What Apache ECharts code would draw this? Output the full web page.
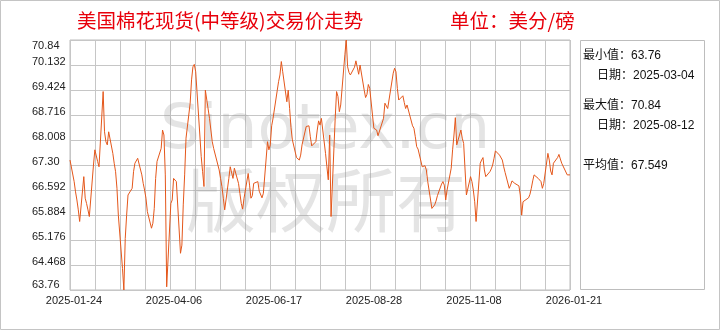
<!DOCTYPE html>
<html>
<head>
<meta charset="utf-8">
<script src="https://cdn.jsdelivr.net/npm/echarts@6/dist/echarts.min.js"></script>
<style>
html,body{margin:0;padding:0;background:#fff;}
#chart{width:720px;height:330px;}
</style>
</head>
<body>
<div id="chart"></div>
<script>
// ---- data ----
const titleText = '美国棉花现货(中等级)交易价走势';
const unitText = '单位：美分/磅';
const startDate = '2025-01-24';
const endDate = '2026-01-21';
// one value per trading weekday starting at startDate
const priceValues = [
  67.44, 66.83, 66.54, 66.31, 66.03, 65.70, 66.97, 66.36, 66.21, 66.03, 65.84,
  67.30, 67.73, 67.68, 67.40, 67.25, 69.38, 68.24, 67.96, 67.87, 68.24,
  67.63, 67.35, 67.11, 66.64, 65.88, 64.37, 63.76, 65.22, 65.88, 66.45,
  66.64, 67.11, 67.35, 67.40, 67.49, 67.02, 66.78, 66.59, 66.36, 65.98,
  65.51, 65.65, 66.07, 66.92, 67.40, 67.77, 68.29, 68.15, 67.02, 63.85,
  66.21, 66.31, 66.92, 66.97, 66.83, 64.80, 65.03, 66.17, 67.02, 68.06,
  69.05, 69.71, 70.08, 70.15,
  69.94, 68.15, 67.54, 67.11, 66.69, 69.42,
  68.62, 68.29, 67.96, 67.77, 67.73, 67.16, 66.92, 66.69, 66.36, 66.03,
  66.92, 67.25, 67.21, 66.92, 67.21, 66.78, 66.50, 66.21, 66.05, 66.36,
  67.06, 66.73, 66.36, 66.43, 66.78, 66.83, 66.56, 66.59, 66.37, 66.50,
  67.96, 67.73, 67.87, 68.41, 68.62, 69.40, 69.66, 69.85, 70.23, 69.94,
  69.09, 69.42, 68.90, 68.36, 68.01, 67.51, 67.47, 67.44, 67.58, 67.87,
  68.39, 68.39, 68.41, 68.10, 67.84, 67.96, 68.29, 68.55, 68.43,
  68.62, 67.63, 67.25, 66.88, 68.15, 65.84,
  68.62, 69.38, 69.24, 68.81, 69.00, 70.42, 70.84, 70.08, 69.92, 69.85,
  70.07, 70.25, 70.27, 69.87, 70.13, 69.42, 69.21, 69.30, 69.58, 69.47,
  68.34, 68.34, 68.29, 68.13, 68.10, 68.62, 69.05, 69.05, 68.90, 68.90,
  69.90, 70.04, 69.94, 69.47, 69.14, 69.26, 69.07, 68.90, 69.00, 69.05,
  68.41, 68.34, 68.10, 67.82, 67.75, 67.25, 67.25, 67.28, 67.16, 66.83,
  66.07, 66.05, 66.17, 66.28, 66.43, 66.76, 66.83, 66.73,
  66.31, 66.59,
  67.21, 67.73, 68.15, 68.64, 67.87, 68.29, 68.06, 67.91, 67.91, 66.45,
  66.97, 66.83, 66.59, 66.26, 65.70, 67.35, 67.44, 67.51, 67.16, 66.97,
  67.11, 67.19, 67.30, 67.49, 67.70, 67.58, 67.53, 67.44, 67.25, 67.09,
  66.64, 66.73, 66.85, 66.90, 66.78, 66.71, 66.45, 65.88, 66.26, 66.29,
  66.37, 66.47, 66.64, 66.85, 67.02, 66.92, 66.90, 66.83, 66.64, 66.78,
  67.63, 67.44, 67.13, 67.02, 67.35, 67.51, 67.60, 67.47, 67.35, 67.35,
  67.02, 66.99, 67.02
];
const xTickLabels = ['2025-01-24', '2025-04-06', '2025-06-17', '2025-08-28', '2025-11-08', '2026-01-21'];
const yTickLabels = ['63.76', '64.468', '65.176', '65.884', '66.592', '67.30', '68.008', '68.716', '69.424', '70.132', '70.84'];
const statLines = ['最小值：63.76', '日期：2025-03-04', '最大值：70.84', '日期：2025-08-12', '平均值：67.549'];
const watermarkTexts = ['Sinotex.cn', '版权所有'];

// ---- build ----
const DAY = 86400000;
function parseD(s) { const p = s.split('-').map(Number); return Date.UTC(p[0], p[1] - 1, p[2]); }
const t0 = parseD(startDate);
const span = (parseD(endDate) - t0) / DAY;
const seriesData = [];
for (let t = t0; seriesData.length < priceValues.length; t += DAY) {
  const dow = new Date(t).getUTCDay();
  if (dow === 0 || dow === 6) continue;
  seriesData.push([(t - t0) / DAY, priceValues[seriesData.length]]);
}
const yMin = Number(yTickLabels[0]);
const yMax = Number(yTickLabels[yTickLabels.length - 1]);
const yStep = (yMax - yMin) / (yTickLabels.length - 1);
const xLabelStep = span / (xTickLabels.length - 1);

const numFont = '"Liberation Sans", "Noto Sans CJK SC", sans-serif';
const statY = [56, 76, 106, 126, 166];
const statX = [583, 597, 583, 597, 583];

const chart = echarts.init(document.getElementById('chart'), null, { renderer: 'canvas', width: 720, height: 330 });
chart.setOption({
  animation: false,
  backgroundColor: '#ffffff',
  title: [
    { text: titleText, left: 72, top: 6,
      textStyle: { color: '#e8000b', fontSize: 19.5, fontWeight: 'normal', fontFamily: '"Noto Sans CJK SC", sans-serif' } },
    { text: unitText, left: 445, top: 6,
      textStyle: { color: '#e8000b', fontSize: 19.5, fontWeight: 'normal', fontFamily: '"Noto Sans CJK SC", sans-serif' } }
  ],
  grid: { left: 70, top: 40, width: 500, height: 250, show: true, borderColor: '#bdbdbd', borderWidth: 1, backgroundColor: 'transparent' },
  xAxis: {
    type: 'value', min: 0, max: span, interval: span / 20,
    axisLine: { show: false }, axisTick: { show: false },
    splitLine: { show: true, lineStyle: { color: '#c6c6c6', width: 1 } },
    axisLabel: {
      showMinLabel: true, showMaxLabel: true, margin: 5, fontSize: 11, color: '#222',
      fontFamily: numFont, padding: [0, 0, 0, 8],
      formatter: function (v) {
        const i = Math.round(v / xLabelStep);
        return Math.abs(v - i * xLabelStep) < 0.01 ? (xTickLabels[i] || '') : '';
      }
    }
  },
  yAxis: {
    type: 'value', min: yMin, max: yMax, interval: yStep,
    axisLine: { show: false }, axisTick: { show: false },
    splitLine: { show: true, lineStyle: { color: '#c6c6c6', width: 1 } },
    axisLabel: {
      showMinLabel: true, showMaxLabel: true, align: 'left', margin: 38, fontSize: 11, color: '#222',
      fontFamily: numFont,
      verticalAlignMaxLabel: 'top', verticalAlignMinLabel: 'bottom',
      rich: { u: { padding: [0, 0, 6, 0], fontSize: 11, color: '#222', fontFamily: numFont } },
      formatter: function (v) {
        const i = Math.round((v - yMin) / yStep);
        const s = yTickLabels[i] || '';
        if (i === 0 || i === yTickLabels.length - 1) return s;
        return '{u|' + s + '}';
      }
    }
  },
  graphic: [
    { type: 'rect', silent: true, z: 0, shape: { x: 0.5, y: 0.5, width: 719, height: 329 }, style: { fill: null, stroke: '#c4c4c4', lineWidth: 1 } },
    { type: 'rect', silent: true, z: 0, shape: { x: 580.5, y: 40.5, width: 124, height: 249 }, style: { fill: null, stroke: '#bdbdbd', lineWidth: 1 } },
    { type: 'text', silent: true, z: 1, style: { text: watermarkTexts[0], x: 160, y: 132, font: '63px "DejaVu Sans"', fill: 'rgba(150,150,150,0.26)', verticalAlign: 'middle' } },
    { type: 'text', silent: true, z: 1, style: { text: watermarkTexts[1], x: 186, y: 200, font: '70px "Noto Sans CJK SC"', fill: 'rgba(150,150,150,0.26)', verticalAlign: 'middle' } }
  ].concat(statLines.map(function (s, i) {
    return { type: 'text', silent: true, z: 5, style: { text: s, x: statX[i], y: statY[i], font: '12px ' + numFont, fill: '#111', verticalAlign: 'middle' } };
  })),
  series: [{
    type: 'line', data: seriesData, showSymbol: false, symbol: 'none', clip: true, z: 3,
    lineStyle: { color: '#e4571b', width: 1 }
  }]
});
</script>
</body>
</html>
